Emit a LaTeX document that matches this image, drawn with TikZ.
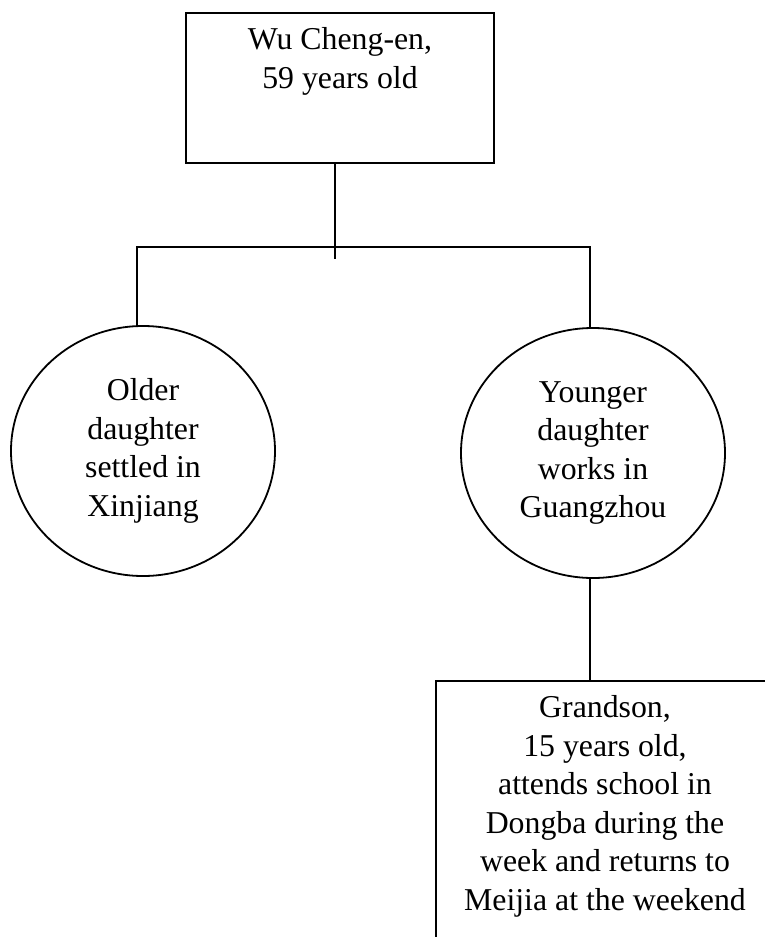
\documentclass[tikz,border=0pt]{standalone}
\usepackage{fontspec}
\setmainfont{Liberation Serif}
\usetikzlibrary{shapes.geometric}
\newcommand{\famtreefont}{\fontsize{31.8}{38.5}\selectfont}
\begin{document}
\begin{tikzpicture}[x=1pt,y=-1pt,
  line width=1.8pt,
  box/.style={draw, rectangle, inner sep=0pt, outer sep=0pt},
  person/.style={draw, ellipse, inner sep=0pt, outer sep=0pt, minimum width=264pt,
    minimum height=250pt, align=center, font=\famtreefont},
  txt/.style={align=center, inner sep=0pt, font=\famtreefont},
  link/.style={draw, line width=1.8pt}]
\clip (0,0) rectangle (765,937);

% grandfather
\node[box, minimum width=308pt, minimum height=150pt, anchor=north west] (wu) at (186,13) {};
\node[txt, anchor=north] (wutext) at ([yshift=-14pt]wu.north) {Wu Cheng-en,\\59 years old};

% daughters
\node[person] (older) at (143,451) {Older\\daughter\\settled in\\Xinjiang};
\node[person] (younger) at (593,453) {Younger\\daughter\\works in\\Guangzhou};

% grandson
\node[box, minimum width=338pt, minimum height=300pt, anchor=north west] (grandson) at (436,681) {};
\node[txt, anchor=north] (gstext) at ([yshift=-14pt]grandson.north)
  {Grandson,\\15 years old,\\attends school in\\Dongba during the\\week and returns to\\Meijia at the weekend};

% connectors
\coordinate (stemtop) at ([xshift=-5pt]wu.south);
\coordinate (stemend) at ([yshift=-96pt]stemtop);
\coordinate (jL) at (137,247);
\coordinate (jR) at (590,247);
\path[link] (stemtop) -- (stemend);
\path[link] (jL |- older.north) -- (jL) -- (jR) -- (jR |- younger.north);
\path[link] (jR |- younger.south) -- (jR |- grandson.north);
\end{tikzpicture}
\end{document}
